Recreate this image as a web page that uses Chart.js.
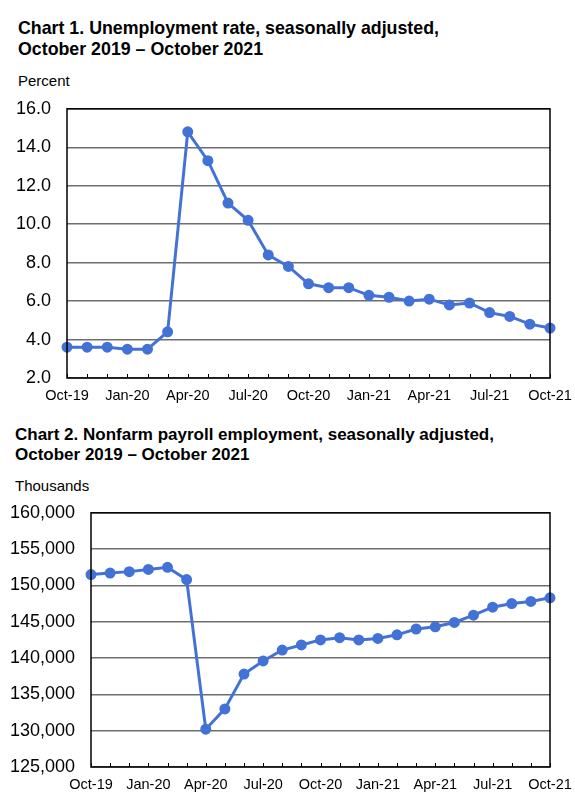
<!DOCTYPE html>
<html>
<head>
<meta charset="utf-8">
<script src="https://cdn.jsdelivr.net/npm/chart.js@4/dist/chart.umd.min.js"></script>
<style>
  html, body { margin: 0; padding: 0; background: #fff; }
  body { width: 575px; height: 803px; position: relative; overflow: hidden;
         font-family: "Liberation Sans", Arial, sans-serif; color: #000; }
  .title { position: absolute; font-weight: bold; font-size: 17px; line-height: 20px; }
  .unit { position: absolute; font-size: 15px; }
  .box { position: absolute; left: 0; width: 575px; }
</style>
</head>
<body>
<div class="title" style="left:18px; top:18px; font-size:17.8px; line-height:21px;">Chart 1. Unemployment rate, seasonally adjusted,<br>October 2019 – October 2021</div>
<div class="unit" style="left:18px; top:72px;">Percent</div>
<div class="box" style="top:82px; height:328px;"><canvas id="c1"></canvas></div>

<div class="title" style="left:15px; top:425px;">Chart 2. Nonfarm payroll employment, seasonally adjusted,<br>October 2019 – October 2021</div>
<div class="unit" style="left:15px; top:477px;">Thousands</div>
<div class="box" style="top:486px; height:314px;"><canvas id="c2"></canvas></div>

<script>
// monthly, Oct 2019 to Oct 2021
const months = ["Oct-19","Nov-19","Dec-19","Jan-20","Feb-20","Mar-20","Apr-20","May-20","Jun-20",
  "Jul-20","Aug-20","Sep-20","Oct-20","Nov-20","Dec-20","Jan-21","Feb-21","Mar-21","Apr-21",
  "May-21","Jun-21","Jul-21","Aug-21","Sep-21","Oct-21"];

const unemploymentRate = [3.6, 3.6, 3.6, 3.5, 3.5, 4.4, 14.8, 13.3, 11.1, 10.2, 8.4, 7.8, 6.9,
  6.7, 6.7, 6.3, 6.2, 6.0, 6.1, 5.8, 5.9, 5.4, 5.2, 4.8, 4.6];

const payrollThousands = [151500, 151700, 151900, 152200, 152500, 150800, 130200, 133000, 137800,
  139600, 141100, 141800, 142500, 142800, 142500, 142700, 143200, 144000, 144300,
  144900, 145900, 147000, 147500, 147800, 148300];

const rateTicks = { min: 2, max: 16, step: 2 };
const payrollTicks = { min: 125000, max: 160000, step: 5000 };

const lineColor = "#4372d7";
const fontFamily = "'Liberation Sans', Arial, sans-serif";

// plot frame + small inside tick marks on the x axis
const framePlugin = {
  id: "frame",
  afterDraw(chart) {
    const { ctx, chartArea: a, scales } = chart;
    ctx.save();
    ctx.strokeStyle = "#000";
    ctx.lineWidth = 1;
    months.forEach((m, i) => {
      const x = Math.round(scales.x.getPixelForValue(i)) + 0.5;
      ctx.beginPath();
      ctx.moveTo(x, a.bottom);
      ctx.lineTo(x, a.bottom - 4);
      ctx.stroke();
    });
    ctx.lineWidth = 1.5;
    ctx.strokeRect(a.left, a.top, a.right - a.left, a.bottom - a.top);
    ctx.restore();
  }
};

function makeChart(id, values, range, yLabel, leftWidth, xHeight) {
  return new Chart(document.getElementById(id), {
    type: "line",
    data: {
      labels: months,
      datasets: [{
        data: values,
        borderColor: lineColor,
        backgroundColor: lineColor,
        borderWidth: 3,
        pointRadius: 4,
        pointHoverRadius: 4,
        tension: 0
      }]
    },
    options: {
      responsive: true,
      maintainAspectRatio: false,
      animation: false,
      layout: { padding: { top: 0, right: 25, left: 0, bottom: 0 } },
      plugins: { legend: { display: false }, tooltip: { enabled: false } },
      scales: {
        x: {
          offset: false,
          grid: { display: false, drawTicks: false },
          border: { display: false },
          afterFit: (s) => { s.height = xHeight; s.paddingLeft = 0; s.paddingRight = 0; },
          ticks: {
            autoSkip: false,
            maxRotation: 0,
            padding: 9,
            color: "#000",
            font: { family: fontFamily, size: 14.5 },
            callback: (v, i) => (i % 3 === 0 ? months[i] : "")
          }
        },
        y: {
          min: range.min,
          max: range.max,
          grid: { color: "#6e6e6e", lineWidth: 1.5, drawTicks: false },
          border: { display: false },
          afterFit: (s) => { s.width = leftWidth; },
          ticks: {
            stepSize: range.step,
            padding: 16,
            color: "#000",
            font: { family: fontFamily, size: 18 },
            callback: yLabel
          }
        }
      }
    },
    plugins: [framePlugin]
  });
}

makeChart("c1", unemploymentRate, rateTicks, (v) => v.toFixed(1), 67, 32);
makeChart("c2", payrollThousands, payrollTicks, (v) => v.toLocaleString("en-US"), 91, 33);
</script>
</body>
</html>
